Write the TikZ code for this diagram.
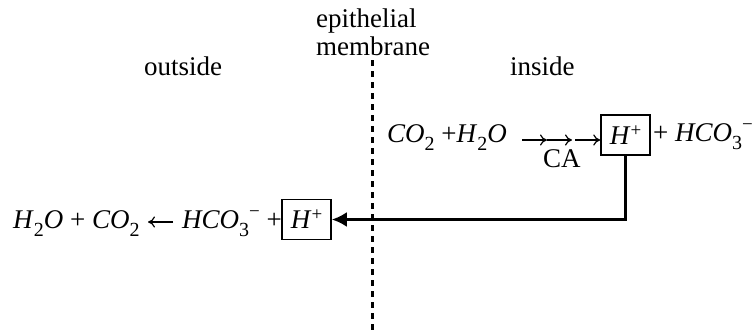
\documentclass[tikz,border=0pt]{standalone}
\usepackage{fontspec}
\setmainfont{Liberation Serif}
\usetikzlibrary{arrows.meta}
\tikzset{
  lbl/.style={inner sep=0pt, anchor=base west, font=\fontsize{27}{30}\selectfont},
  hbox/.style={draw, line width=1.5pt, minimum width=49pt, minimum height=40pt, inner sep=0pt, font=\fontsize{27}{30}\selectfont},
  membrane/.style={line width=3pt, dash pattern=on 6pt off 5pt},
  flow/.style={line width=3pt, -{Latex[length=15pt,width=15pt]}},
  rxn/.style={line width=1.2pt, -{To[length=7pt,width=11pt]}}
}
\newcommand{\sbs}[1]{\raisebox{-8pt}{\fontsize{20}{22}\selectfont #1}}
\newcommand{\sps}[1]{\raisebox{8pt}{\fontsize{19}{22}\selectfont #1}}
\newcommand{\mns}{\raisebox{11pt}{\fontsize{19}{22}\selectfont −}}
\newcommand{\Hp}{\textit{H}\sps{+}}
\begin{document}
\begin{tikzpicture}[x=1pt,y=-1pt]
\useasboundingbox (0,0) rectangle (755,330);
% labels
\node[lbl] (epi) at (316,27) {epithelial};
\node[lbl] (mem) at (316,55) {membrane};
\node[lbl] (out) at (144,75) {outside};
\node[lbl] (ins) at (510,75) {inside};
\coordinate (mtop) at (372,60);
\coordinate (mbot) at (372,330);
\draw[membrane] (mtop) -- (mbot);
% top reaction
\node[lbl] (reac) at (387,142) {\textit{CO}\sbs{2} +\textit{H}\sbs{2}\textit{O}};
\coordinate (a0) at (522,140);
\coordinate (a1) at (547,140);
\coordinate (a2) at (572,140);
\coordinate (a3) at (575,140);
\draw[rxn] (a0) -- (a1);
\draw[rxn] (a1) -- (a2);
\node[hbox] (topH) at (625.5,135) {\Hp};
\draw[rxn] (a3) -- (topH.west |- a3);
\node[lbl] (ca) at (543,167) {CA};
\node[lbl] (prod) at (653,141) {+ \textit{HCO}\sbs{3}\mns};
% bottom reaction
\node[lbl] (breac) at (13,228) {\textit{H}\sbs{2}\textit{O} + \textit{CO}\sbs{2}};
\coordinate (b0) at (173,222);
\coordinate (b1) at (148,222);
\draw[rxn] (b0) -- (b1);
\node[lbl] (bmid) at (182,228) {\textit{HCO}\sbs{3}\mns{} +};
\node[hbox] (lowH) at (306.5,219.5) {\Hp};
% transport
\draw[flow] (topH.south) |- (lowH.east);
\end{tikzpicture}
\end{document}
